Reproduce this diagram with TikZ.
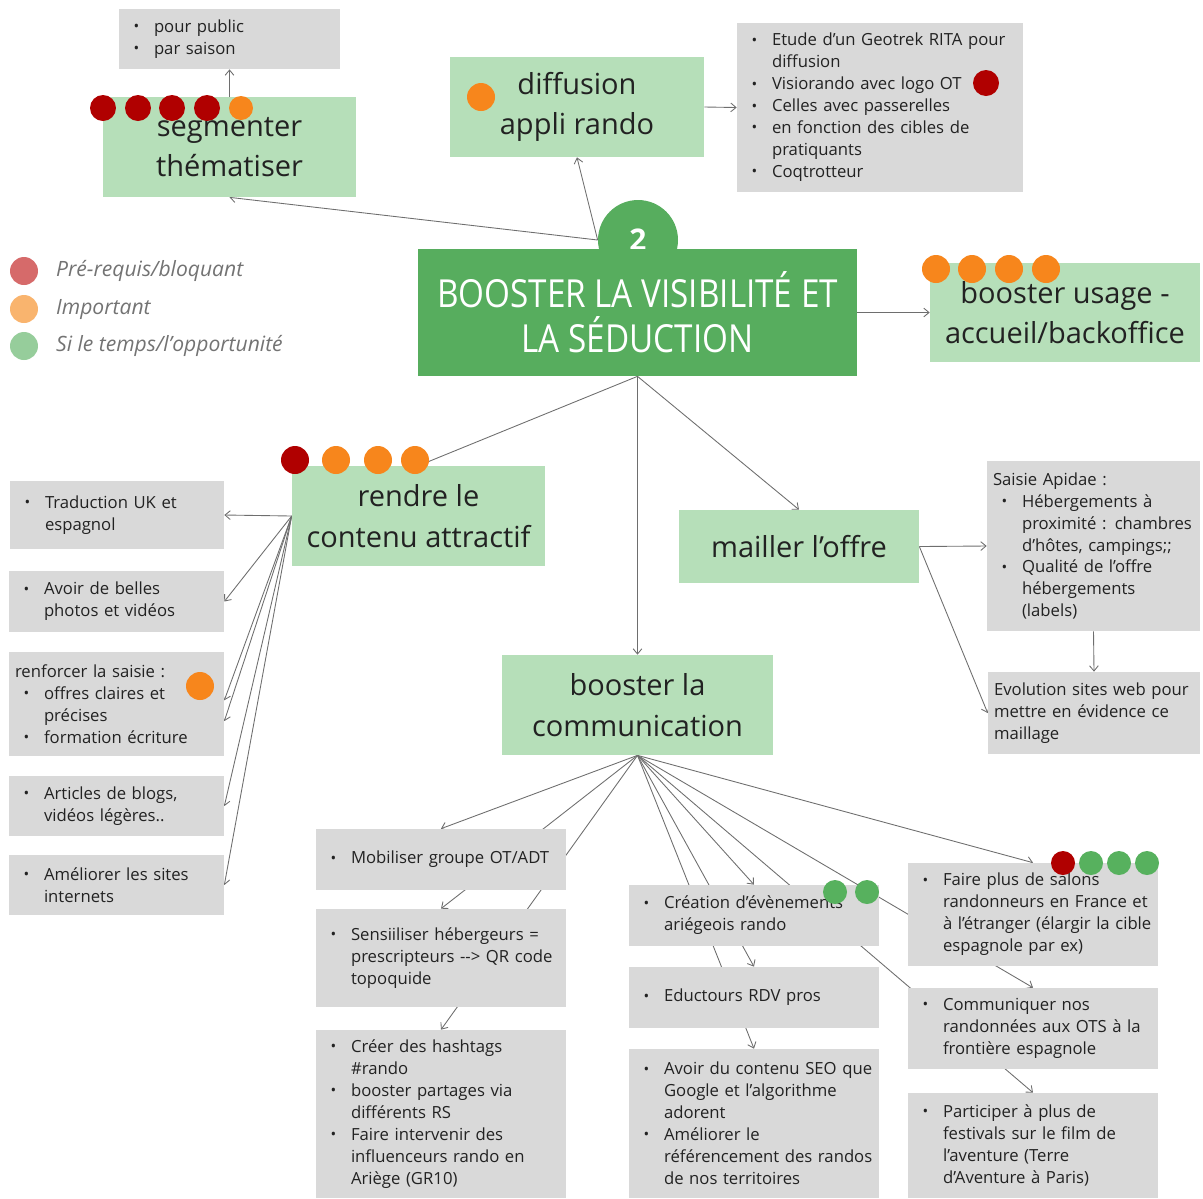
\documentclass[tikz,border=0pt]{standalone}
\usepackage{fontspec}
\setmainfont{Open Sans}
\newfontfamily\titrefont[FakeStretch=0.86]{Open Sans}
\usetikzlibrary{arrows.meta,backgrounds}

\definecolor{vertclair}{RGB}{182,223,185}
\definecolor{vertfonce}{RGB}{87,173,94}
\definecolor{grisboite}{RGB}{217,217,217}
\definecolor{prirouge}{RGB}{176,0,0}
\definecolor{priorange}{RGB}{247,134,28}
\definecolor{privert}{RGB}{87,177,94}
\definecolor{legrouge}{RGB}{214,106,106}
\definecolor{legorange}{RGB}{249,180,110}
\definecolor{legvert}{RGB}{150,205,155}
\definecolor{trait}{RGB}{110,110,110}
\definecolor{texte}{RGB}{34,34,34}

\newcommand{\puce}{\makebox[0.58cm][l]{\hspace{0.17cm}\raisebox{0.05em}{\scalebox{0.9}{\textbullet}}}}
\newcommand{\suite}{\hspace*{0.58cm}}

\begin{document}
\begin{tikzpicture}[x=0.02cm, y=-0.02cm, >={Straight Barb[length=3pt,width=5pt]},
  etape/.style={fill=vertclair, text=texte, align=center, inner sep=0pt, font=\fontsize{16.5}{23}\selectfont},
  note/.style={fill=grisboite, text=texte, align=left, inner xsep=0.12cm, inner ysep=0pt, font=\fontsize{9.5}{12.5}\selectfont},
  point/.style={circle, inner sep=0pt, minimum size=0.52cm},
  legende/.style={anchor=west, text=black!55, font=\itshape\fontsize{12}{14}\selectfont},
  lien/.style={->, draw=trait, line width=0.5pt}]

  \useasboundingbox (0,0) rectangle (1203,1198);

  % Centre
  \node[circle, fill=vertfonce, minimum size=1.6cm, text=white, font=\bfseries\fontsize{17}{20}\selectfont] (num) at (638,240) {2};
  \node[fill=vertfonce, text=white, minimum width=8.78cm, minimum height=2.54cm, align=center, font=\titrefont\fontsize{22}{25.5}\selectfont] (main) at (637.5,312.5) {BOOSTER LA VISIBILITÉ ET\\LA SÉDUCTION};

  % Legende
  \node[point, minimum size=0.56cm, fill=legrouge] (legR) at (24,271) {};
  \node[point, minimum size=0.56cm, fill=legorange] (legO) at (24,309) {};
  \node[point, minimum size=0.56cm, fill=legvert] (legV) at (24,346) {};
  \node[legende] (legRtxt) at (50,271) {Pré-requis/bloquant};
  \node[legende] (legOtxt) at (50,309) {Important};
  \node[legende] (legVtxt) at (50,346) {Si le temps/l’opportunité};

  % Etapes
  \node[etape, minimum width=5.06cm, minimum height=2cm] (seg) at (229.5,147) {segmenter\\thématiser};
  \node[etape, minimum width=5.08cm, minimum height=2cm] (diff) at (577,107) {diffusion\\appli rando};
  \node[etape, minimum width=5.4cm, minimum height=1.98cm] (usage) at (1065,312.5) {booster usage -\\accueil/backoffice};
  \node[etape, minimum width=5.06cm, minimum height=2cm] (rendre) at (418.5,516) {rendre le\\contenu attractif};
  \node[etape, minimum width=4.8cm, minimum height=1.46cm] (mailler) at (799,546.5) {mailler l’offre};
  \node[etape, minimum width=5.42cm, minimum height=2cm] (comm) at (637.5,705) {booster la\\communication};

  % Details haut
  \node[note, text width=4.18cm, minimum height=1.2cm] (segpub) at (229.5,39) {\puce pour public\\\puce par saison};
  \node[note, text width=5.48cm, minimum height=3.38cm] (diffinfo) at (880,107.5) {\puce Etude d’un Geotrek RITA pour\\\suite diffusion\\\puce Visiorando avec logo OT\\\puce Celles avec passerelles\\\puce en fonction des cibles de\\\suite pratiquants\\\puce Coqtrotteur};

  % Details mailler
  \node[note, text width=4.02cm, minimum height=3.4cm] (apidae) at (1093.5,546) {Saisie Apidae :\\\puce Hébergements à\\\suite proximité : chambres\\\suite d’hôtes, campings;;\\\puce Qualité de l’offre\\\suite hébergements\\\suite (labels)};
  \node[note, text width=4cm, minimum height=1.64cm] (evol) at (1094,713) {Evolution sites web pour\\mettre en évidence ce\\maillage};

  % Details contenu
  \node[note, text width=4.04cm, minimum height=1.36cm] (trad) at (117,515) {\puce Traduction UK et\\\suite espagnol};
  \node[note, text width=4.06cm, minimum height=1.22cm] (photos) at (116.5,601.5) {\puce Avoir de belles\\\suite photos et vidéos};
  \node[note, text width=4.06cm, minimum height=2.08cm] (saisie) at (116.5,704) {renforcer la saisie :\\\puce offres claires et\\\suite précises\\\puce formation écriture};
  \node[note, text width=4.06cm, minimum height=1.2cm] (blogs) at (116.5,806) {\puce Articles de blogs,\\\suite vidéos légères..};
  \node[note, text width=4.06cm, minimum height=1.2cm] (sites) at (116.5,885) {\puce Améliorer les sites\\\suite internets};

  % Details communication
  \node[note, text width=4.76cm, minimum height=1.22cm] (mobil) at (441,859.5) {\puce Mobiliser groupe OT/ADT};
  \node[note, text width=4.76cm, minimum height=1.96cm] (sensib) at (441,958) {\puce Sensiiliser hébergeurs =\\\suite prescripteurs -{}-> QR code\\\suite topoquide};
  \node[note, text width=4.76cm, minimum height=3.36cm] (hashtag) at (441,1114) {\puce Créer des hashtags\\\suite \#rando\\\puce booster partages via\\\suite différents RS\\\puce Faire intervenir des\\\suite influenceurs rando en\\\suite Ariège (GR10)};
  \node[note, text width=4.76cm, minimum height=1.22cm] (event) at (754,915.5) {\puce Création d’évènements\\\suite ariégeois rando};
  \node[note, text width=4.76cm, minimum height=1.22cm] (educ) at (754,997.5) {\puce Eductours RDV pros};
  \node[note, text width=4.76cm, minimum height=2.98cm] (seo) at (754,1123.5) {\puce Avoir du contenu SEO que\\\suite Google et l’algorithme\\\suite adorent\\\puce Améliorer le\\\suite référencement des randos\\\suite de nos territoires};
  \node[note, text width=4.76cm, minimum height=2.06cm] (salons) at (1033,914.5) {\puce Faire plus de salons\\\suite randonneurs en France et\\\suite à l’étranger (élargir la cible\\\suite espagnole par ex)};
  \node[note, text width=4.76cm, minimum height=1.62cm] (ots) at (1033,1028.5) {\puce Communiquer nos\\\suite randonnées aux OTS à la\\\suite frontière espagnole};
  \node[note, text width=4.76cm, minimum height=2.1cm] (festival) at (1033,1145.5) {\puce Participer à plus de\\\suite festivals sur le film de\\\suite l’aventure (Terre\\\suite d’Aventure à Paris)};

  % Priorites
  \node[point, fill=prirouge] (seg1) at (103,108) {};
  \node[point, fill=prirouge] (seg2) at (138,108) {};
  \node[point, fill=prirouge] (seg3) at (172,108) {};
  \node[point, fill=prirouge] (seg4) at (207,108) {};
  \node[point, fill=priorange, minimum size=0.48cm] (seg5) at (241,108) {};
  \node[point, fill=priorange, minimum size=0.56cm] (diff1) at (481,97) {};
  \node[point, fill=prirouge] (diffinfo1) at (986,83) {};
  \node[point, fill=priorange, minimum size=0.56cm] (usage1) at (936,269) {};
  \node[point, fill=priorange, minimum size=0.56cm] (usage2) at (972,269) {};
  \node[point, fill=priorange, minimum size=0.56cm] (usage3) at (1009,269) {};
  \node[point, fill=priorange, minimum size=0.56cm] (usage4) at (1046,269) {};
  \node[point, fill=prirouge, minimum size=0.56cm] (rendre1) at (295,460) {};
  \node[point, fill=priorange, minimum size=0.56cm] (rendre2) at (336,460) {};
  \node[point, fill=priorange, minimum size=0.56cm] (rendre3) at (378,460) {};
  \node[point, fill=priorange, minimum size=0.56cm] (rendre4) at (415,460) {};
  \node[point, fill=priorange, minimum size=0.56cm] (saisie1) at (200,686) {};
  \node[point, fill=privert, minimum size=0.48cm] (event1) at (835,892) {};
  \node[point, fill=privert, minimum size=0.48cm] (event2) at (867,892) {};
  \node[point, fill=prirouge, minimum size=0.48cm] (salons1) at (1063,863) {};
  \node[point, fill=privert, minimum size=0.48cm] (salons2) at (1091,863) {};
  \node[point, fill=privert, minimum size=0.48cm] (salons3) at (1119,863) {};
  \node[point, fill=privert, minimum size=0.48cm] (salons4) at (1147,863) {};

  % Liens
  \begin{scope}[on background layer]
    \draw[lien] (seg.north) -- (segpub.south);
    \draw[lien] (num.west) -- (seg.south);
    \draw[lien] (num.west) -- (diff.south);
    \draw[lien] (diff.east) -- (diffinfo.west);
    \draw[lien] (main.east) -- (usage.west);
    \draw[lien] (main.south) -- (rendre.north);
    \draw[lien] (main.south) -- (mailler.north);
    \draw[lien] (main.south) -- (comm.north);
    \draw[lien] (mailler.east) -- (apidae.west);
    \draw[lien] (mailler.east) -- (evol.west);
    \draw[lien] (apidae.south) -- (evol.north);
    \draw[lien] (rendre.west) -- (trad.east);
    \draw[lien] (rendre.west) -- (photos.east);
    \draw[lien] (rendre.west) -- (saisie.2);
    \draw[lien] (rendre.west) -- (saisie.-9.5);
    \draw[lien] (rendre.west) -- (blogs.east);
    \draw[lien] (rendre.west) -- (sites.east);
    \draw[lien] (comm.south) -- (mobil.north);
    \draw[lien] (comm.south) -- (sensib.north);
    \draw[lien] (comm.south) -- (hashtag.north);
    \draw[lien] (comm.south) -- (event.north);
    \draw[lien] (comm.south) -- (educ.north);
    \draw[lien] (comm.south) -- (seo.north);
    \draw[lien] (comm.south) -- (salons.north);
    \draw[lien] (comm.south) -- (ots.north);
    \draw[lien] (comm.south) -- (festival.north);
  \end{scope}

\end{tikzpicture}
\end{document}
